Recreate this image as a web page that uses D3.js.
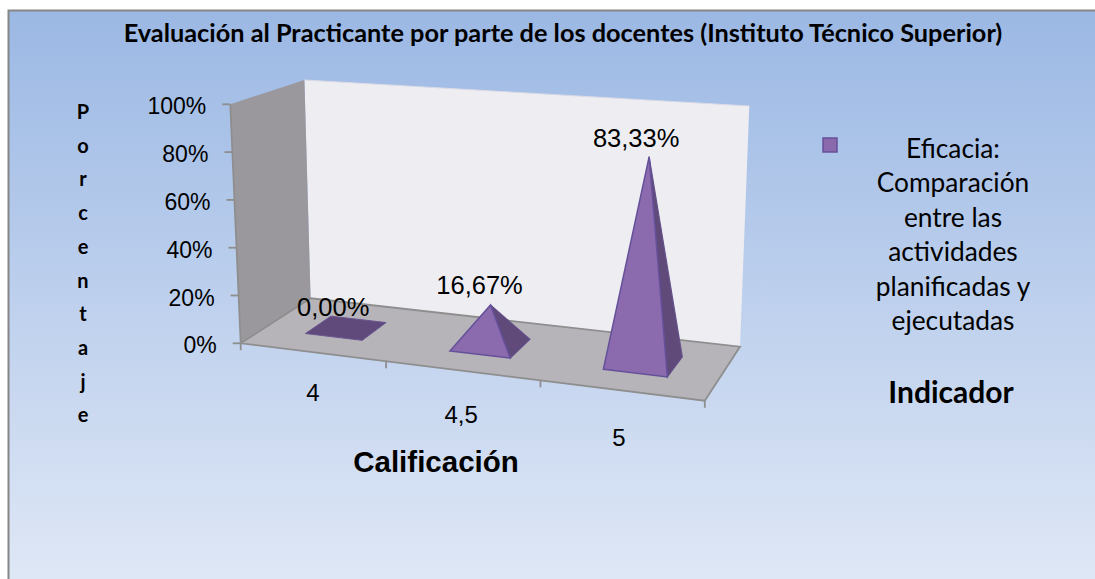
<!DOCTYPE html>
<html><head><meta charset="utf-8">
<script src="https://cdn.jsdelivr.net/npm/d3@7/dist/d3.min.js"></script>
<style>html,body{margin:0;padding:0;background:#fff}svg{display:block}</style></head>
<body><svg id="c" width="1095" height="579"></svg>
<script>
const categories = ["4", "4,5", "5"];
const values = [0, 16.67, 83.33];
const valueLabels = ["0,00%", "16,67%", "83,33%"];
const yTicks = [0, 20, 40, 60, 80, 100];
const stackedTitle = ["P","o","r","c","e","n","t","a","j","e"];
const legendLines = ["Eficacia:", "Comparación", "entre las", "actividades", "planificadas y", "ejecutadas"];

const svg = d3.select("#c");
const defs = svg.append("defs");
const bg = defs.append("linearGradient").attr("id","bg").attr("x1",0).attr("y1",0).attr("x2",0).attr("y2",1);
bg.append("stop").attr("offset","0%").attr("stop-color","#9bb8e4");
bg.append("stop").attr("offset","100%").attr("stop-color","#e0e8f6");
svg.append("rect").attr("x",8.5).attr("y",10.5).attr("width",1100).attr("height",580)
  .attr("fill","url(#bg)").attr("stroke","#868686").attr("stroke-width",2);

// Projective map from the unit square to a quadrilateral [p00,p10,p11,p01]
function homography(q){
  const [[x0,y0],[x1,y1],[x2,y2],[x3,y3]] = q;
  const dx1=x1-x2, dx2=x3-x2, sx=x0-x1+x2-x3, dy1=y1-y2, dy2=y3-y2, sy=y0-y1+y2-y3;
  const det=dx1*dy2-dx2*dy1;
  const g=(sx*dy2-dx2*sy)/det, h=(dx1*sy-sx*dy1)/det;
  const a=x1-x0+g*x1, b=x3-x0+h*x3, d=y1-y0+g*y1, e=y3-y0+h*y3;
  return (u,v)=>{const w=g*u+h*v+1; return [(a*u+b*v+x0)/w,(d*u+e*v+y0)/w];};
}
// floor corners: front-left, front-right, back-right, back-left
const floor = homography([[240.7,343.3],[704.8,400.7],[740,346.7],[310.6,298.3]]);
// pixel offset of a full 100% rise at the same corners
const rise = [[-10.4,-239],[11,-262],[9.3,-240.7],[-6.2,-218.3]];
const yFrac = d3.scaleLinear().domain([0,100]).range([0,1]);
const xBand = d3.scaleBand().domain(categories).range([0,1]);
const P = (u,v,val)=>{
  const a=floor(u,v), t=yFrac(val);
  const bil = k => (1-v)*((1-u)*rise[0][k]+u*rise[1][k]) + v*((1-u)*rise[3][k]+u*rise[2][k]);
  return [a[0]+bil(0)*t, a[1]+bil(1)*t];
};
const poly = pts => d3.line()(pts)+"Z";

const g = svg.append("g");
// walls
g.append("path").attr("d",poly([P(0,1,0),P(1,1,0),P(1,1,100),P(0,1,100)])).attr("fill","#eeedf2");
g.append("path").attr("d",poly([P(0,0,0),P(0,1,0),P(0,1,100),P(0,0,100)])).attr("fill","#9a989d");
g.append("path").attr("d",poly([P(0,0,0),P(1,0,0),P(1,1,0),P(0,1,0)])).attr("fill","#b6b4b9");
// edges
const edge = (pts)=>g.append("path").attr("d",d3.line()(pts)).attr("fill","none").attr("stroke","#8e8e8e").attr("stroke-width",1.8);
edge([P(0,1,100),P(1,1,100)]).attr("stroke","#d9dbe6").attr("stroke-width",1);
edge([P(0,0,100),P(0,0,0),P(1,0,0),P(1,1,0),P(0,1,0),P(0,0,0)]);

// y axis ticks and labels
yTicks.forEach(t=>{
  const p=P(0,0,t);
  edge([[p[0]-8,p[1]],p]);
  svg.append("text").attr("x",p[0]-24).attr("y",p[1]+10)
    .attr("text-anchor","end").attr("font-family","Liberation Sans").attr("font-size",23).attr("fill","#000").text(t+"%");
});
// x axis ticks
[0,1/3,2/3,1].forEach(u=>{const p=P(u,0,0); edge([p,[p[0],p[1]+7]]);});
// x labels
categories.forEach((c,i)=>{
  const p=P(xBand(c)+xBand.bandwidth()/2,0,0);
  svg.append("text").attr("x",p[0]+0.5-i*1.5).attr("y",p[1]+49+i*3.5).attr("text-anchor","middle")
    .attr("font-family","Liberation Sans").attr("font-size",24).text(c);
});

// pyramids
categories.forEach((c,i)=>{
  const cu=xBand(c)+xBand.bandwidth()/2, hu=xBand.bandwidth()*0.2, hv=0.19, cv=0.5;
  const fl=P(cu-hu,cv-hv,0), fr=P(cu+hu,cv-hv,0), br=P(cu+hu,cv+hv,0), bl=P(cu-hu,cv+hv,0), apex=P(cu,cv,values[i]);
  if(values[i]===0){
    g.append("path").attr("d",poly([fl,fr,br,bl])).attr("fill","#604a7b").attr("stroke","#6a5590").attr("stroke-width",1);
  } else {
    g.append("path").attr("d",poly([fr,br,apex])).attr("fill","#5f4a7a").attr("stroke","#64508a").attr("stroke-width",1.2);
    g.append("path").attr("d",poly([fl,fr,apex])).attr("fill","#8b6bae").attr("stroke","#65509a").attr("stroke-width",1.5);
  }
  svg.append("text").attr("x",apex[0]+[-13,-11,-13][i]).attr("y",apex[1]+[-12,-11,-10][i])
    .attr("text-anchor","middle").attr("font-family","Liberation Sans").attr("font-size",25.5).text(valueLabels[i]);
});

// titles
svg.append("text").attr("x",563).attr("y",42).attr("text-anchor","middle")
  .attr("font-family","Lato").attr("font-weight",700).attr("font-size",25.3).text("Evaluación al Practicante por parte de los docentes (Instituto Técnico Superior)");
stackedTitle.forEach((l,i)=>{
  svg.append("text").attr("x",83).attr("y",119+i*33.7).attr("text-anchor","middle")
    .attr("font-family","Lato").attr("font-weight",700).attr("font-size",20).text(l);
});
svg.append("text").attr("x",436).attr("y",472).attr("text-anchor","middle")
  .attr("font-family","Liberation Sans").attr("font-weight",700).attr("font-size",29.5).text("Calificación");

// legend
svg.append("rect").attr("x",823).attr("y",138).attr("width",14).attr("height",14)
  .attr("fill","#8a69ad").attr("stroke","#65509a").attr("stroke-width",1.5);
legendLines.forEach((l,i)=>{
  svg.append("text").attr("x",953).attr("y",158+i*34.4).attr("text-anchor","middle")
    .attr("font-family","Lato").attr("font-size",26.3).text(l);
});
svg.append("text").attr("x",951).attr("y",403).attr("text-anchor","middle")
  .attr("font-family","Lato").attr("font-weight",700).attr("font-size",30).text("Indicador");
</script></body></html>
